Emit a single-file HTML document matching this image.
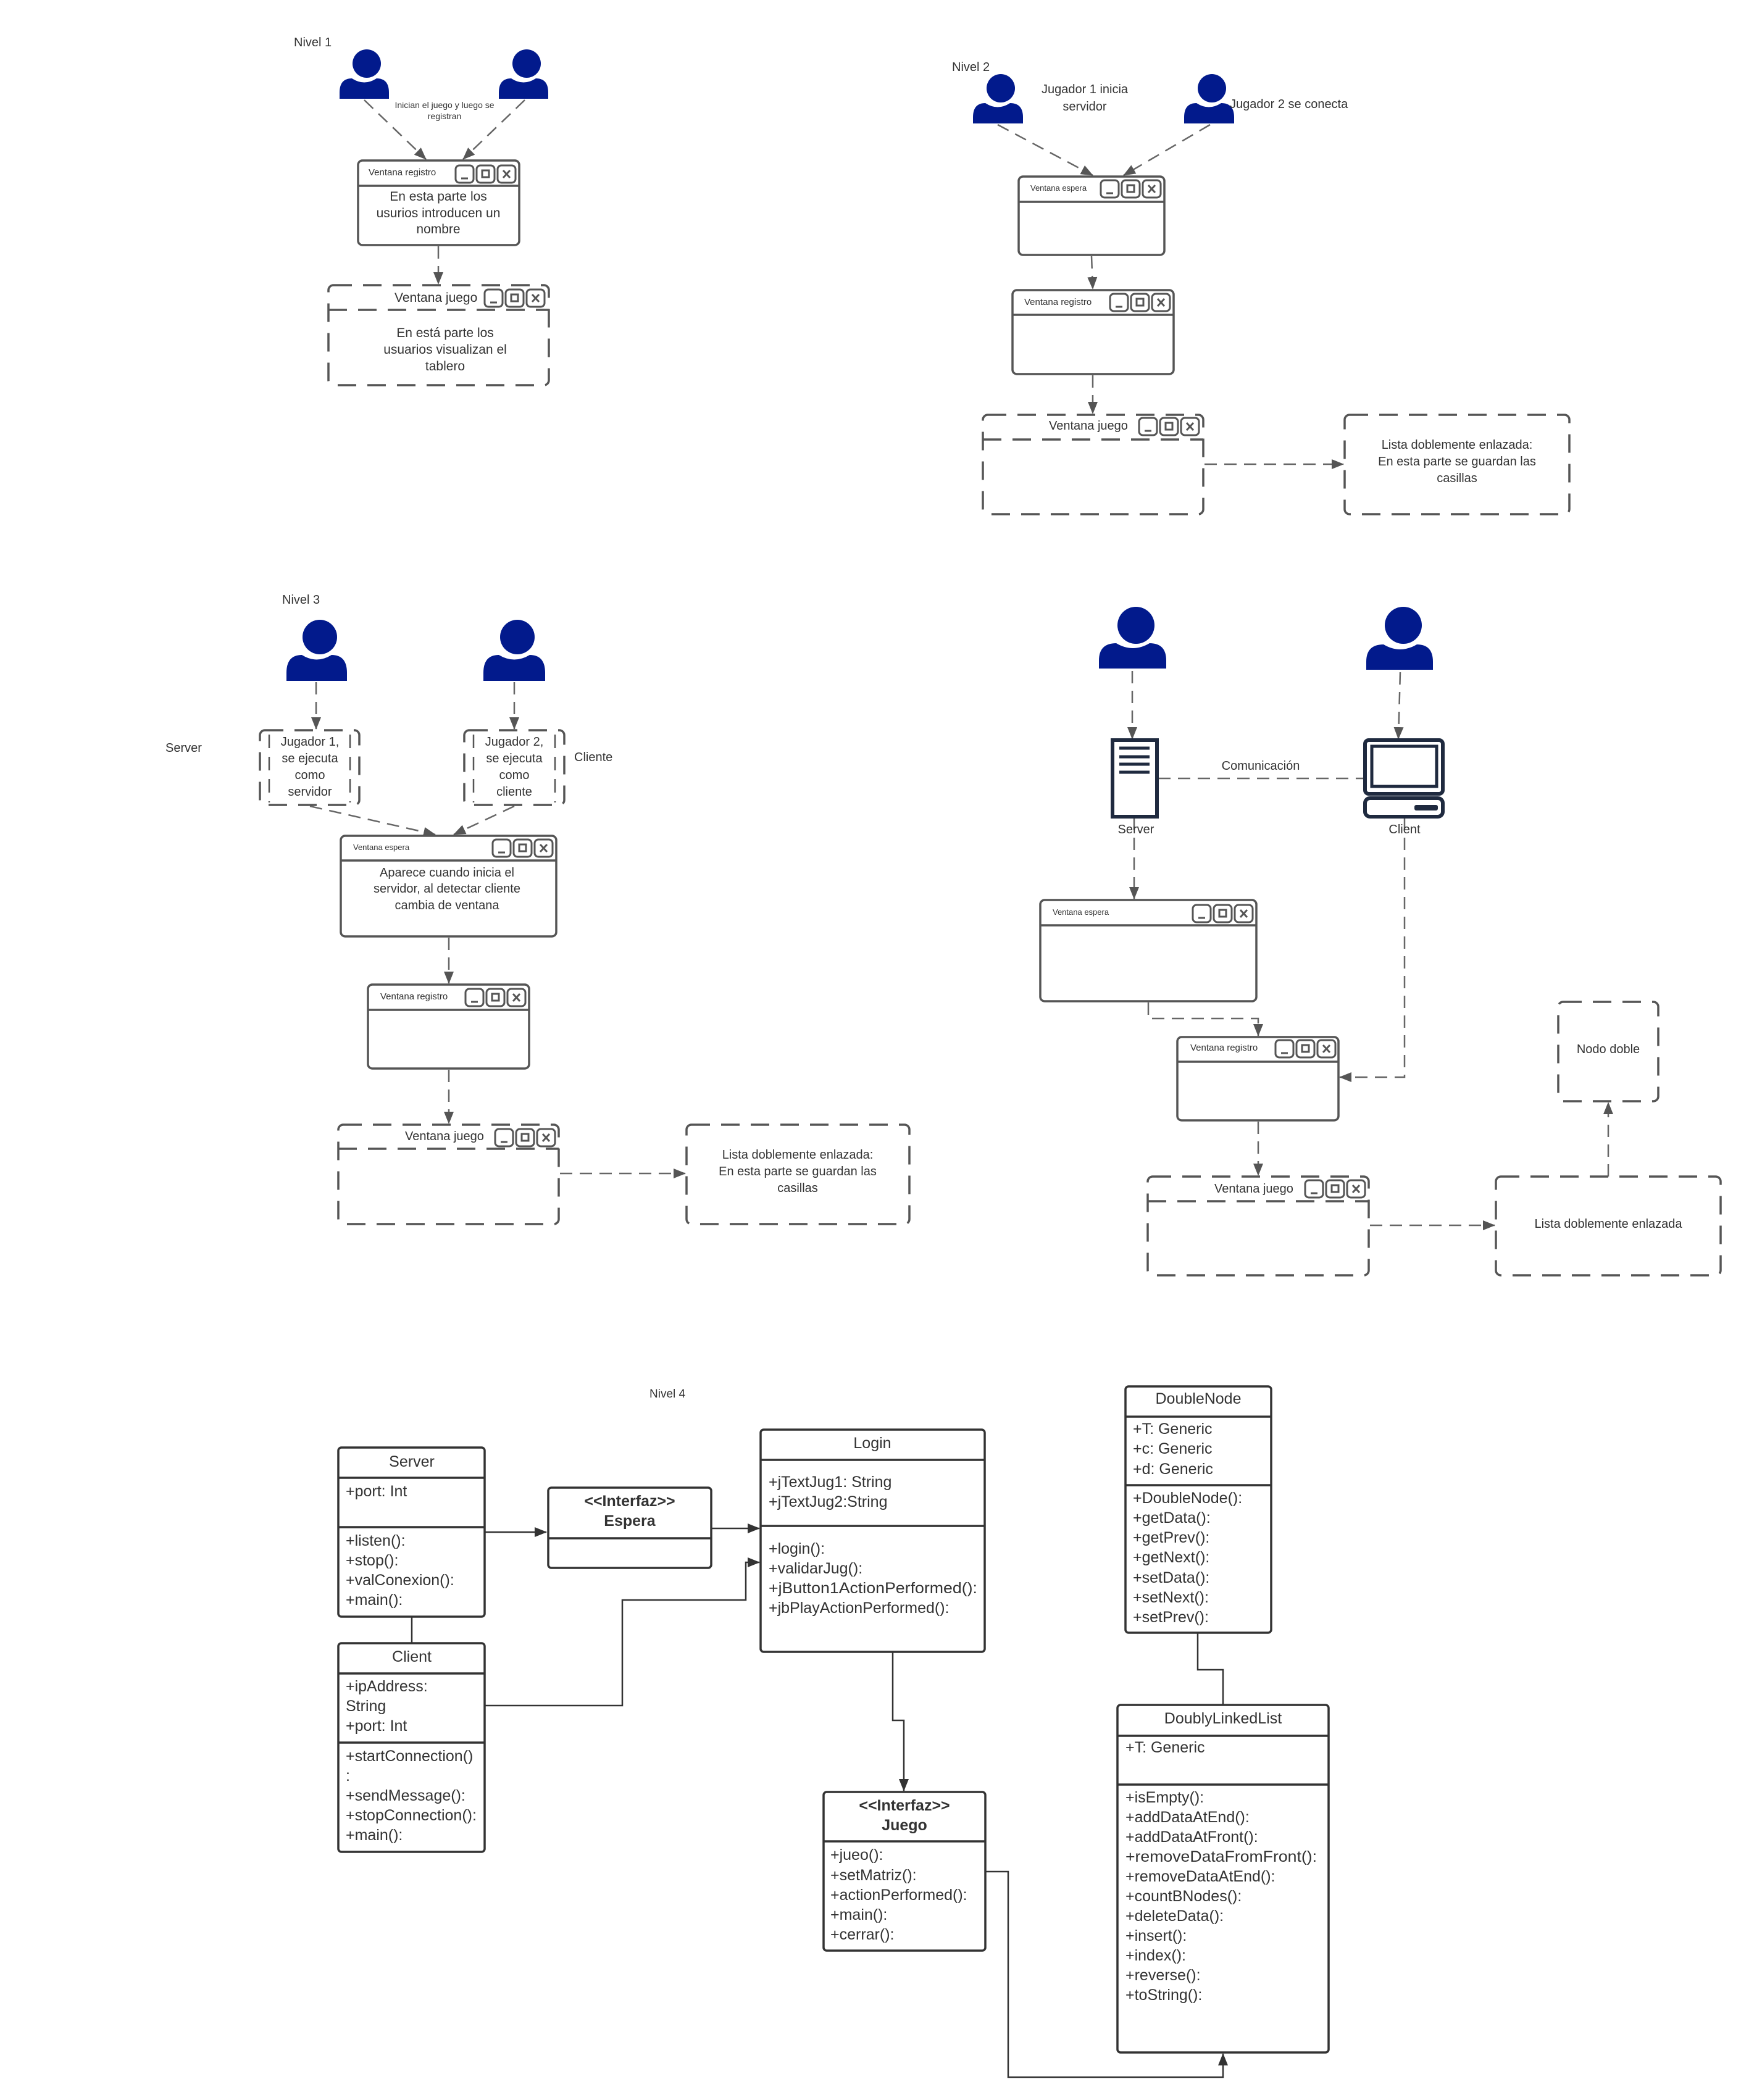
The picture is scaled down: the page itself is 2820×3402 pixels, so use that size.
<!DOCTYPE html>
<html><head><meta charset="utf-8"><style>
html,body{margin:0;padding:0;background:#fff;}
svg{display:block;}
text{font-family:"Liberation Sans",sans-serif;fill:#333;}
</style></head><body>
<svg width="2820" height="3402" viewBox="0 0 2820 3402" xmlns="http://www.w3.org/2000/svg">
<defs>
<marker id="ah" viewBox="0 0 20 16" refX="19" refY="8" markerWidth="20" markerHeight="16" markerUnits="userSpaceOnUse" orient="auto"><path d="M0,0 L20,8 L0,16 Z" fill="#555"/></marker>
<marker id="ahd" viewBox="0 0 20 16" refX="19" refY="8" markerWidth="20" markerHeight="16" markerUnits="userSpaceOnUse" orient="auto"><path d="M0,0 L20,8 L0,16 Z" fill="#333"/></marker>
<g id="btns" fill="none" stroke="#555" stroke-width="3">
<rect x="0" y="0" width="29" height="28" rx="6" fill="#fff"/><line x1="9" y1="21" x2="20" y2="21"/>
<rect x="34" y="0" width="29" height="28" rx="6" fill="#fff"/><rect x="43" y="8" width="11" height="11"/>
<rect x="68" y="0" width="29" height="28" rx="6" fill="#fff"/><line x1="77" y1="8" x2="88" y2="20"/><line x1="88" y1="8" x2="77" y2="20"/>
</g>
</defs>

<!-- persons -->
<g fill="#021a8c">
<circle cx="594" cy="103" r="23"/><path d="M550,160 L550,150 Q550,127 570,127 Q590,140 610,127 Q630,127 630,150 L630,160 Z"/>
<circle cx="853" cy="103" r="23"/><path d="M808,160 L808,150 Q808,127 828,127 Q848,140 868,127 Q888,127 888,150 L888,160 Z"/>
<circle cx="1621" cy="143" r="23"/><path d="M1576,200 L1576,190 Q1576,167 1596,167 Q1616,180 1636,167 Q1657,167 1657,190 L1657,200 Z"/>
<circle cx="1963" cy="143" r="23"/><path d="M1918,200 L1918,190 Q1918,167 1938,167 Q1958,180 1978,167 Q1999,167 1999,190 L1999,200 Z"/>
<circle cx="518" cy="1032" r="28"/><path d="M464,1103 L464,1090 Q464,1061 489,1061 Q513,1076 537,1061 Q562,1061 562,1090 L562,1103 Z"/>
<circle cx="838" cy="1032" r="28"/><path d="M783,1103 L783,1090 Q783,1061 808,1061 Q833,1076 858,1061 Q883,1061 883,1090 L883,1103 Z"/>
<circle cx="1840" cy="1013" r="30"/><path d="M1780,1083 L1780,1070 Q1780,1042 1808,1042 Q1835,1058 1862,1042 Q1889,1042 1889,1070 L1889,1083 Z"/>
<circle cx="2273" cy="1013" r="30"/><path d="M2213,1085 L2213,1072 Q2213,1044 2241,1044 Q2268,1060 2295,1044 Q2321,1044 2321,1072 L2321,1085 Z"/>
</g>

<!-- connectors dashed -->
<g fill="none" stroke="#666" stroke-width="2.5" stroke-dasharray="20 12" marker-end="url(#ah)">
<line x1="590" y1="162" x2="690" y2="258"/>
<line x1="850" y1="162" x2="750" y2="258"/>
<line x1="710" y1="399" x2="710" y2="460"/>
<line x1="1616" y1="202" x2="1770" y2="284"/>
<line x1="1960" y1="202" x2="1820" y2="284"/>
<line x1="1768" y1="415" x2="1770" y2="468"/>
<line x1="1770" y1="608" x2="1770" y2="670"/>
<line x1="1951" y1="752" x2="2176" y2="752"/>
<line x1="512" y1="1105" x2="512" y2="1181"/>
<line x1="833" y1="1105" x2="833" y2="1181"/>
<line x1="502" y1="1306" x2="705" y2="1352"/>
<line x1="833" y1="1306" x2="735" y2="1352"/>
<line x1="727" y1="1519" x2="727" y2="1593"/>
<line x1="727" y1="1733" x2="727" y2="1820"/>
<line x1="907" y1="1901" x2="1110" y2="1901"/>
<line x1="1834" y1="1087" x2="1834" y2="1197"/>
<line x1="2268" y1="1089" x2="2265" y2="1197"/>
<line x1="1837" y1="1325" x2="1837" y2="1456"/>
<path d="M1860,1624 L1860,1650 L2038,1650 L2038,1678"/>
<path d="M2275,1325 L2275,1745 L2170,1745"/>
<line x1="2038" y1="1817" x2="2038" y2="1904"/>
<line x1="2219" y1="1985" x2="2421" y2="1985"/>
<line x1="2605" y1="1906" x2="2605" y2="1786"/>
</g>
<line x1="1876" y1="1261" x2="2209" y2="1261" stroke="#666" stroke-width="2.5" stroke-dasharray="20 12"/>

<!-- solid windows -->
<g fill="#fff" stroke="#555" stroke-width="3.5">
<rect x="580" y="260" width="261" height="137" rx="7"/><line x1="580" y1="301" x2="841" y2="301"/>
<rect x="1650" y="286" width="236" height="127" rx="7"/><line x1="1650" y1="327" x2="1886" y2="327"/>
<rect x="1640" y="470" width="261" height="136" rx="7"/><line x1="1640" y1="510" x2="1901" y2="510"/>
<rect x="552" y="1354" width="349" height="163" rx="7"/><line x1="552" y1="1394" x2="901" y2="1394"/>
<rect x="596" y="1595" width="261" height="136" rx="7"/><line x1="596" y1="1636" x2="857" y2="1636"/>
<rect x="1685" y="1458" width="350" height="164" rx="7"/><line x1="1685" y1="1499" x2="2035" y2="1499"/>
<rect x="1907" y="1680" width="261" height="135" rx="7"/><line x1="1907" y1="1720" x2="2168" y2="1720"/>
</g>
<!-- dashed windows/boxes -->
<g fill="none" stroke="#555" stroke-width="3.5" stroke-dasharray="30 18">
<rect x="532" y="462" width="357" height="162" rx="8"/><line x1="532" y1="502" x2="889" y2="502"/>
<rect x="1592" y="672" width="357" height="161" rx="8"/><line x1="1592" y1="712" x2="1949" y2="712"/>
<rect x="2178" y="672" width="364" height="161" rx="8"/>
<rect x="421" y="1183" width="161" height="121" rx="8"/>
<rect x="752" y="1183" width="162" height="121" rx="8"/>
<rect x="548" y="1822" width="357" height="161" rx="8"/><line x1="548" y1="1861" x2="905" y2="1861"/>
<rect x="1112" y="1822" width="361" height="161" rx="8"/>
<rect x="1859" y="1906" width="358" height="160" rx="8"/><line x1="1859" y1="1946" x2="2217" y2="1946"/>
<rect x="2423" y="1906" width="364" height="160" rx="8"/>
<rect x="2524" y="1623" width="162" height="161" rx="8"/>
</g>
<g stroke="#555" stroke-width="2.5" stroke-dasharray="22 14" fill="none">
<line x1="436" y1="1190" x2="436" y2="1300"/><line x1="567" y1="1190" x2="567" y2="1300"/>
<line x1="767" y1="1190" x2="767" y2="1300"/><line x1="899" y1="1190" x2="899" y2="1300"/>
</g>

<!-- buttons -->
<use href="#btns" x="738" y="268"/>
<use href="#btns" x="785" y="469"/>
<use href="#btns" x="1783" y="292"/>
<use href="#btns" x="1798" y="476"/>
<use href="#btns" x="1845" y="677"/>
<use href="#btns" x="798" y="1360"/>
<use href="#btns" x="754" y="1602"/>
<use href="#btns" x="802" y="1829"/>
<use href="#btns" x="1932" y="1466"/>
<use href="#btns" x="2066" y="1685"/>
<use href="#btns" x="2114" y="1912"/>

<!-- server / client icons -->
<g fill="none" stroke="#1f2a3f">
<rect x="1802" y="1199" width="72" height="124" stroke-width="6"/>
<g stroke-width="5"><line x1="1813" y1="1212" x2="1862" y2="1212"/><line x1="1813" y1="1226" x2="1862" y2="1226"/><line x1="1813" y1="1238" x2="1862" y2="1238"/><line x1="1813" y1="1251" x2="1862" y2="1251"/></g>
<rect x="2211" y="1199" width="126" height="87" rx="6" stroke-width="6"/>
<rect x="2222" y="1209" width="105" height="65" stroke-width="5"/>
<rect x="2211" y="1293" width="126" height="30" rx="8" stroke-width="6"/>
</g>
<rect x="2291" y="1304" width="38" height="9" rx="3" fill="#1f2a3f"/>

<!-- texts -->
<g font-size="20">
<text x="476" y="75">Nivel 1</text>
<text x="1542" y="115">Nivel 2</text>
<text x="457" y="978">Nivel 3</text>
<text x="1052" y="2264" font-size="19">Nivel 4</text>
</g>
<g text-anchor="middle">
<text x="720" y="175" font-size="14">Inician el juego y luego se</text>
<text x="720" y="193" font-size="14">registran</text>
<text x="710" y="325" font-size="21">En esta parte los</text>
<text x="710" y="352" font-size="21">usurios introducen un</text>
<text x="710" y="378" font-size="21">nombre</text>
<text x="721" y="546" font-size="21">En está parte los</text>
<text x="721" y="573" font-size="21">usuarios visualizan el</text>
<text x="721" y="600" font-size="21">tablero</text>
<text x="1757" y="151" font-size="20">Jugador 1 inicia</text>
<text x="1757" y="179" font-size="20">servidor</text>
<text x="2360" y="727" font-size="20">Lista doblemente enlazada:</text>
<text x="2360" y="754" font-size="20">En esta parte se guardan las</text>
<text x="2360" y="781" font-size="20">casillas</text>
<g font-size="20"><text x="502" y="1208">Jugador 1,</text><text x="502" y="1235">se ejecuta</text><text x="502" y="1262">como</text><text x="502" y="1289">servidor</text>
<text x="833" y="1208">Jugador 2,</text><text x="833" y="1235">se ejecuta</text><text x="833" y="1262">como</text><text x="833" y="1289">cliente</text></g>
<text x="724" y="1420" font-size="20">Aparece cuando inicia el</text>
<text x="724" y="1446" font-size="20">servidor, al detectar cliente</text>
<text x="724" y="1473" font-size="20">cambia de ventana</text>
<text x="1292" y="1877" font-size="20">Lista doblemente enlazada:</text>
<text x="1292" y="1904" font-size="20">En esta parte se guardan las</text>
<text x="1292" y="1931" font-size="20">casillas</text>
<text x="2042" y="1247" font-size="20">Comunicación</text>
<text x="1840" y="1350" font-size="20">Server</text>
<text x="2275" y="1350" font-size="20">Client</text>
<text x="2605" y="1706" font-size="20">Nodo doble</text>
<text x="2605" y="1989" font-size="20">Lista doblemente enlazada</text>
</g>
<text x="1992" y="175" font-size="20">Jugador 2 se conecta</text>
<text x="268" y="1218" font-size="20">Server</text>
<text x="930" y="1233" font-size="20">Cliente</text>
<!-- window titles -->
<text x="597" y="284" font-size="15">Ventana registro</text>
<text x="639" y="489" font-size="21">Ventana juego</text>
<text x="1669" y="309" font-size="13">Ventana espera</text>
<text x="1659" y="494" font-size="15">Ventana registro</text>
<text x="1699" y="696" font-size="20">Ventana juego</text>
<text x="572" y="1377" font-size="13">Ventana espera</text>
<text x="616" y="1619" font-size="15">Ventana registro</text>
<text x="656" y="1847" font-size="20">Ventana juego</text>
<text x="1705" y="1482" font-size="13">Ventana espera</text>
<text x="1928" y="1702" font-size="15">Ventana registro</text>
<text x="1967" y="1932" font-size="20">Ventana juego</text>

<!-- UML -->
<g fill="#fff" stroke="#333" stroke-width="3.5">
<rect x="548" y="2345" width="237" height="274" rx="5"/><line x1="548" y1="2394" x2="785" y2="2394"/><line x1="548" y1="2474" x2="785" y2="2474"/>
<rect x="548" y="2662" width="237" height="338" rx="5"/><line x1="548" y1="2711" x2="785" y2="2711"/><line x1="548" y1="2823" x2="785" y2="2823"/>
<rect x="888" y="2410" width="264" height="130" rx="5"/><line x1="888" y1="2492" x2="1152" y2="2492"/>
<rect x="1232" y="2316" width="363" height="360" rx="5"/><line x1="1232" y1="2365" x2="1595" y2="2365"/><line x1="1232" y1="2472" x2="1595" y2="2472"/>
<rect x="1334" y="2903" width="262" height="257" rx="5"/><line x1="1334" y1="2983" x2="1596" y2="2983"/>
<rect x="1823" y="2246" width="236" height="399" rx="5"/><line x1="1823" y1="2295" x2="2059" y2="2295"/><line x1="1823" y1="2406" x2="2059" y2="2406"/>
<rect x="1810" y="2762" width="342" height="563" rx="5"/><line x1="1810" y1="2812" x2="2152" y2="2812"/><line x1="1810" y1="2891" x2="2152" y2="2891"/>
</g>
<g fill="none" stroke="#333" stroke-width="2.5">
<line x1="667" y1="2619" x2="667" y2="2662"/>
<line x1="785" y1="2482" x2="885" y2="2482" marker-end="url(#ahd)"/>
<line x1="1152" y1="2476" x2="1230" y2="2476" marker-end="url(#ahd)"/>
<path d="M785,2763 L1008,2763 L1008,2592 L1208,2592 L1208,2531 L1230,2531" marker-end="url(#ahd)"/>
<path d="M1446,2676 L1446,2787 L1464,2787 L1464,2901" marker-end="url(#ahd)"/>
<path d="M1940,2645 L1940,2705 L1981,2705 L1981,2762"/>
<path d="M1596,3032 L1633,3032 L1633,3365 L1981,3365 L1981,3327" marker-end="url(#ahd)"/>
</g>
<g font-size="25" fill="#333">
<text x="667" y="2376" text-anchor="middle">Server</text>
<text x="560" y="2424">+port: Int</text>
<text x="560" y="2504">+listen():</text><text x="560" y="2536">+stop():</text><text x="560" y="2568">+valConexion():</text><text x="560" y="2600">+main():</text>
<text x="667" y="2692" text-anchor="middle">Client</text>
<text x="560" y="2740">+ipAddress:</text><text x="560" y="2772">String</text><text x="560" y="2804">+port: Int</text>
<text x="560" y="2853">+startConnection()</text><text x="560" y="2885">:</text><text x="560" y="2917">+sendMessage():</text><text x="560" y="2949">+stopConnection():</text><text x="560" y="2981">+main():</text>
<text x="1020" y="2440" text-anchor="middle" font-weight="bold">&lt;&lt;Interfaz&gt;&gt;</text>
<text x="1020" y="2472" text-anchor="middle" font-weight="bold">Espera</text>
<text x="1413" y="2346" text-anchor="middle">Login</text>
<text x="1245" y="2409">+jTextJug1: String</text><text x="1245" y="2441">+jTextJug2:String</text>
<text x="1245" y="2517">+login():</text><text x="1245" y="2549">+validarJug():</text>
<text x="1245" y="2581" textLength="338" lengthAdjust="spacingAndGlyphs">+jButton1ActionPerformed():</text>
<text x="1245" y="2613">+jbPlayActionPerformed():</text>
<text x="1465" y="2933" text-anchor="middle" font-weight="bold">&lt;&lt;Interfaz&gt;&gt;</text>
<text x="1465" y="2965" text-anchor="middle" font-weight="bold">Juego</text>
<text x="1345" y="3013">+jueo():</text><text x="1345" y="3046">+setMatriz():</text><text x="1345" y="3078">+actionPerformed():</text><text x="1345" y="3110">+main():</text><text x="1345" y="3142">+cerrar():</text>
<text x="1941" y="2274" text-anchor="middle">DoubleNode</text>
<text x="1835" y="2323">+T: Generic</text><text x="1835" y="2355">+c: Generic</text><text x="1835" y="2388">+d: Generic</text>
<text x="1835" y="2435">+DoubleNode():</text><text x="1835" y="2467">+getData():</text><text x="1835" y="2499">+getPrev():</text><text x="1835" y="2531">+getNext():</text><text x="1835" y="2564">+setData():</text><text x="1835" y="2596">+setNext():</text><text x="1835" y="2628">+setPrev():</text>
<text x="1981" y="2792" text-anchor="middle">DoublyLinkedList</text>
<text x="1823" y="2839">+T: Generic</text>
<text x="1823" y="2920">+isEmpty():</text><text x="1823" y="2952">+addDataAtEnd():</text><text x="1823" y="2984">+addDataAtFront():</text>
<text x="1823" y="3016" textLength="310" lengthAdjust="spacingAndGlyphs">+removeDataFromFront():</text>
<text x="1823" y="3048">+removeDataAtEnd():</text><text x="1823" y="3080">+countBNodes():</text><text x="1823" y="3112">+deleteData():</text><text x="1823" y="3144">+insert():</text><text x="1823" y="3176">+index():</text><text x="1823" y="3208">+reverse():</text><text x="1823" y="3240">+toString():</text>
</g>
</svg>
</body></html>
